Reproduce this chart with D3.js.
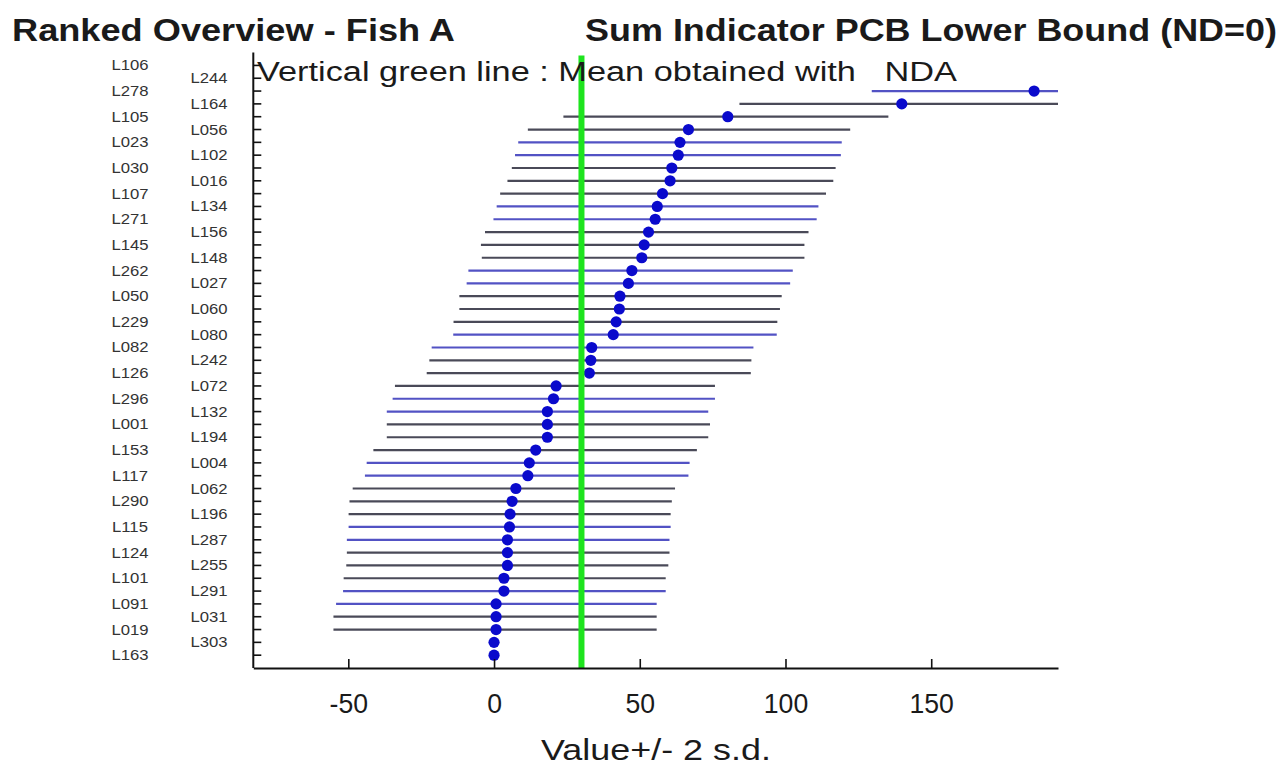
<!DOCTYPE html>
<html>
<head>
<meta charset="utf-8">
<script src="https://cdn.jsdelivr.net/npm/d3@7"></script>
<style>
  html, body { margin: 0; padding: 0; background: #fff; }
  svg { display: block; font-family: "Liberation Sans", Arial, sans-serif; }
</style>
</head>
<body>
<svg id="chart" width="1285" height="775"></svg>
<script>
// ---- data (ranked, top to bottom) ----
const labs = ["L106","L244","L278","L164","L105","L056","L023","L102","L030","L016","L107","L134","L271","L156","L145","L148","L262","L027","L050","L060","L229","L080","L082","L242","L126","L072","L296","L132","L001","L194","L153","L004","L117","L062","L290","L196","L115","L287","L124","L255","L101","L291","L091","L031","L019","L303","L163"];
const values = [null,null,185.3,139.9,80.2,66.7,63.8,63.2,61,60.4,57.8,56,55.3,53,51.5,50.7,47.3,46.1,43.2,43,41.9,40.9,33.5,33.2,32.7,21.3,20.4,18.3,18.3,18.3,14.3,12.1,11.6,7.5,6.2,5.5,5.3,4.6,4.6,4.6,3.4,3.4,0.7,0.7,0.7,0,0];
const lower = [null,null,129.6,84.2,23.8,11.6,8.3,7.2,6.1,4.6,2.1,0.9,-0.2,-3.1,-4.5,-4.2,-8.8,-9.4,-11.9,-11.9,-13.9,-14.0,-21.4,-22.2,-23.1,-34,-34.8,-36.8,-36.8,-36.8,-41.4,-43.7,-44.3,-48.5,-49.6,-49.9,-49.9,-50.5,-50.5,-50.7,-51.6,-51.8,-54.2,-55.1,-55.1,null,null];
const upper = [null,null,241,196,135.3,122.2,119.3,119,117.2,116.4,113.9,111.3,110.7,107.9,106.5,106.5,102.5,101.6,98.7,98.1,97.2,97,89,88.3,88.1,75.8,75.8,73.5,74.1,73.5,69.6,67.1,66.7,62.1,61,60.6,60.6,60.2,60.2,59.8,58.9,58.9,55.8,55.8,55.8,null,null];
const meanValue = 30;
const xTicks = [-50, 0, 50, 100, 150];
const titleLeft = "Ranked Overview - Fish A";
const titleRight = "Sum Indicator PCB Lower Bound (ND=0)";
const subtitle = "Vertical green line : Mean obtained with   NDA";
const xLabel = "Value+/- 2 s.d.";

// ---- layout ----
const svg = d3.select("#chart");
const x = d3.scaleLinear().domain([-82.6, 193.5]).range([253.3, 1058]);
const y = d3.scaleLinear().domain([-1, labs.length]).range([52.6, 668]);
const rows = labs.map((lab, i) => ({ lab, i, v: values[i], lo: lower[i], hi: upper[i] }));

function stretch(sel, f) {
  sel.each(function () {
    const w = this.getComputedTextLength();
    this.setAttribute("textLength", w * f);
    this.setAttribute("lengthAdjust", "spacingAndGlyphs");
  });
}
function fitWidth(sel, w) {
  sel.attr("textLength", w).attr("lengthAdjust", "spacingAndGlyphs");
}

svg.append("defs").append("clipPath").attr("id", "plotclip")
  .append("rect").attr("x", x.range()[0]).attr("y", y.range()[0])
  .attr("width", x.range()[1] - x.range()[0]).attr("height", y.range()[1] - y.range()[0]);

// titles
fitWidth(svg.append("text").attr("x", 12).attr("y", 41).attr("font-size", 31).attr("font-weight", "bold")
  .attr("fill", "#1a1a1a").text(titleLeft), 443);
fitWidth(svg.append("text").attr("x", 585).attr("y", 41).attr("font-size", 31).attr("font-weight", "bold")
  .attr("fill", "#1a1a1a").text(titleRight), 692);

const plot = svg.append("g").attr("clip-path", "url(#plotclip)");

// error bars
const blueRow = i => (i % 5 === 1 || i % 5 === 2);
plot.selectAll("line.err").data(rows.filter(d => d.lo !== null && d.hi !== null))
  .join("line").attr("class", "err")
  .attr("x1", d => x(d.lo)).attr("x2", d => x(d.hi))
  .attr("y1", d => y(d.i)).attr("y2", d => y(d.i))
  .attr("stroke", d => blueRow(d.i) ? "#5252c4" : "#4a4a58")
  .attr("stroke-width", 2.2);

// green mean line
svg.append("line").attr("x1", x(meanValue)).attr("x2", x(meanValue))
  .attr("y1", y.range()[0] + 3).attr("y2", y.range()[1])
  .attr("stroke", "#1ee41e").attr("stroke-width", 6);

// dots
plot.selectAll("circle.pt").data(rows.filter(d => d.v !== null))
  .join("circle").attr("class", "pt")
  .attr("cx", d => x(d.v)).attr("cy", d => y(d.i)).attr("r", 5.6)
  .attr("fill", "#0a0acc");

// y spine + ticks
svg.append("line").attr("x1", x.range()[0]).attr("x2", x.range()[0])
  .attr("y1", y.range()[0]).attr("y2", y.range()[1]).attr("stroke", "#111").attr("stroke-width", 2);
svg.selectAll("line.ytick").data(rows).join("line").attr("class", "ytick")
  .attr("x1", x.range()[0]).attr("x2", x.range()[0] + 8)
  .attr("y1", d => y(d.i)).attr("y2", d => y(d.i)).attr("stroke", "#111").attr("stroke-width", 1.6);

// x axis
const xAxis = svg.append("g").attr("transform", `translate(0,${y.range()[1]})`)
  .call(d3.axisBottom(x).tickValues(xTicks).tickFormat(d => String(d))
    .tickSizeInner(-9).tickSizeOuter(0).tickPadding(25));
xAxis.select(".domain").attr("stroke", "#111").attr("stroke-width", 2.2);
xAxis.selectAll(".tick line").attr("stroke", "#111").attr("stroke-width", 1.6);
xAxis.selectAll(".tick text").attr("font-size", 28).attr("fill", "#1a1a1a")
  .attr("font-family", "Liberation Sans, Arial, sans-serif").attr("dy", "0.71em");
stretch(xAxis.selectAll(".tick text"), 0.95);

// lab labels (alternating columns)
const labT = svg.selectAll("text.lab").data(rows).join("text").attr("class", "lab")
  .attr("x", d => d.i % 2 === 0 ? 130 : 209).attr("y", d => y(d.i) + 5)
  .attr("text-anchor", "middle").attr("font-size", 14.5).attr("fill", "#333")
  .text(d => d.lab);
stretch(labT, 1.15);

// subtitle
fitWidth(svg.append("text").attr("x", 257).attr("y", 81).attr("font-size", 27).attr("fill", "#1a1a1a")
  .style("white-space", "pre").text(subtitle), 700);

// x label
fitWidth(svg.append("text").attr("x", 656).attr("y", 760).attr("text-anchor", "middle")
  .attr("font-size", 30).attr("fill", "#1a1a1a").text(xLabel), 230);
</script>
</body>
</html>
